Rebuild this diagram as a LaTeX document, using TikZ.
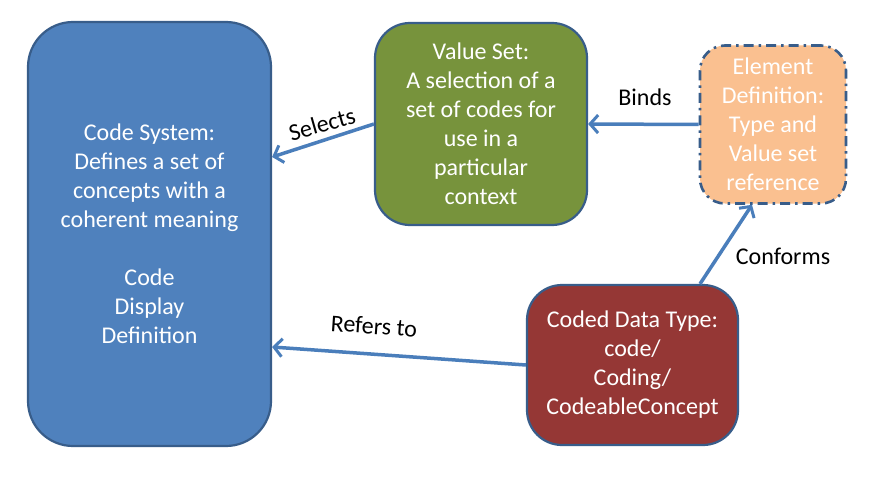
\documentclass[tikz,border=0pt]{standalone}
\usepackage{fontspec}
\setmainfont{Carlito}
\usetikzlibrary{arrows.meta}
\definecolor{csfill}{HTML}{4F81BD}
\definecolor{bordblue}{HTML}{385D8A}
\definecolor{vsfill}{HTML}{77933C}
\definecolor{edfill}{HTML}{FAC090}
\definecolor{cdfill}{HTML}{953735}
\definecolor{arrowblue}{HTML}{4A7EBB}
\tikzset{
  box/.style={rectangle, draw=bordblue, line width=2.2pt, text=white, align=center,
    inner sep=0pt, font=\fontsize{24}{29}\selectfont},
  conn/.style={draw=arrowblue, line width=3.5pt, -{Straight Barb[length=8pt,width=18pt,line width=3pt]}},
  lbl/.style={font=\fontsize{24}{29}\selectfont, text=black, inner sep=0pt}
}
\begin{document}
\begin{tikzpicture}[x=1pt,y=-1pt]
\useasboundingbox (0,0) rectangle (874,481);
\fill[white] (0,0) rectangle (874,481);
\node[box, fill=csfill, rounded corners=45pt, minimum width=243pt, minimum height=424pt] (cs) at (149.5,234)
  {Code System:\\Defines a set of\\concepts with a\\coherent meaning\\[29pt]Code\\Display\\Definition};
\node[box, fill=vsfill, rounded corners=35pt, minimum width=212pt, minimum height=202pt] (vs) at (481,124)
  {Value Set:\\A selection of a\\set of codes for\\use in a\\particular\\context};
\node[box, fill=edfill, rounded corners=25pt, minimum width=146pt, minimum height=158pt, line width=2.6pt,
  dash pattern=on 10pt off 5pt on 2.5pt off 5pt] (ed) at (773,124.5)
  {Element\\Definition:\\Type and\\Value set\\reference};
\node[box, fill=cdfill, rounded corners=35pt, minimum width=211pt, minimum height=160pt] (cd) at (632.5,365)
  {Coded Data Type:\\code/\\Coding/\\CodeableConcept};
\draw[conn] (vs.west) -- ([yshift=77pt]cs.east);
\draw[conn] (ed.west) -- (vs.east);
\draw[conn] ([xshift=67.5pt]cd.north) -- ([xshift=-21pt]ed.south);
\draw[conn] (cd.west) -- ([yshift=-113pt]cs.east);
\node[lbl, rotate=16] (lsel) at (322,124) {Selects};
\node[lbl] (lbind) at (645,97) {Binds};
\node[lbl] (lconf) at (783,256) {Conforms};
\node[lbl, rotate=-4] (lref) at (374,326) {Refers to};
\end{tikzpicture}
\end{document}
